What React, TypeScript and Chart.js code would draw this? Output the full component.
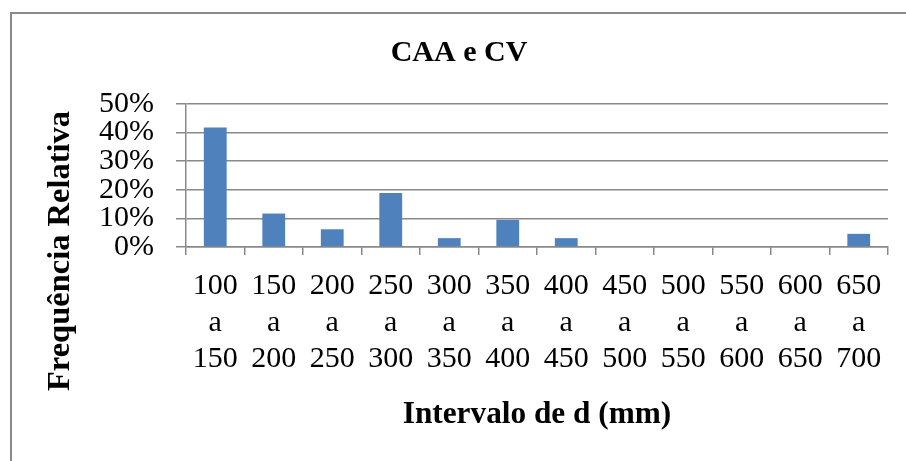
import React, { useEffect, useRef } from "react";
import { Chart, registerables } from "chart.js";

Chart.register(...registerables);

const CHART_TITLE = "CAA e CV";
const X_TITLE = "Intervalo de d (mm)";
const Y_TITLE = "Frequência Relativa";
const LOWER = ["100", "150", "200", "250", "300", "350", "400", "450", "500", "550", "600", "650"];
const UPPER = ["150", "200", "250", "300", "350", "400", "450", "500", "550", "600", "650", "700"];
const VALUES = [0.418, 0.117, 0.062, 0.189, 0.031, 0.095, 0.031, 0, 0, 0, 0, 0.046];
const Y_TICKS = [0, 0.1, 0.2, 0.3, 0.4, 0.5];

const SERIF = "'Liberation Serif', 'Times New Roman', serif";
const GRID = "#898989";

const yTitlePlugin = {
  id: "yTitleCentered",
  afterDraw(chart: any) {
    const ctx = chart.ctx;
    const y = chart.scales.y;
    ctx.save();
    ctx.translate(y.left + 31, chart.height / 2);
    ctx.rotate(-Math.PI / 2);
    ctx.font = `bold 32.5px ${SERIF}`;
    ctx.fillStyle = "#000";
    ctx.textAlign = "center";
    ctx.textBaseline = "middle";
    ctx.fillText(Y_TITLE, 0, 0);
    ctx.restore();
  },
};

export default function App() {
  const ref = useRef<HTMLCanvasElement | null>(null);
  useEffect(() => {
    if (!ref.current) return;
    const labels = LOWER.map((lo, i) => [lo, "a", UPPER[i]]);
    const chart = new Chart(ref.current, {
      type: "bar",
      data: {
        labels,
        datasets: [
          {
            data: VALUES,
            backgroundColor: "#4F81BD",
            borderWidth: 0,
            categoryPercentage: 1,
            barPercentage: 0.39,
          },
        ],
      },
      plugins: [yTitlePlugin],
      options: {
        responsive: false,
        animation: false,
        layout: { padding: { left: 20, right: 20, top: 0, bottom: 0 } },
        plugins: {
          legend: { display: false },
          tooltip: { enabled: false },
          title: {
            display: true,
            text: CHART_TITLE,
            color: "#000",
            font: { family: SERIF, size: 30, weight: "bold", lineHeight: 1.2 },
            padding: { top: 23, bottom: 33 },
          },
        },
        scales: {
          x: {
            grid: {
              display: true,
              drawOnChartArea: false,
              drawTicks: true,
              tickLength: 8,
              color: GRID,
              lineWidth: 1.5,
            },
            border: { display: true, color: GRID, width: 1.5 },
            ticks: {
              color: "#000",
              font: { family: SERIF, size: 30, lineHeight: 1.22 },
              padding: 13,
              maxRotation: 0,
              autoSkip: false,
            },
            title: {
              display: true,
              text: X_TITLE,
              color: "#000",
              font: { family: SERIF, size: 31.3, weight: "bold", lineHeight: 1.2 },
              padding: { top: 0, bottom: 56 },
            },
            afterFit(scale: any) {
              scale.height = 243;
            },
          },
          y: {
            min: 0,
            max: 0.5,
            afterBuildTicks(scale: any) {
              scale.ticks = Y_TICKS.map((v) => ({ value: v }));
            },
            grid: {
              color: GRID,
              lineWidth: 1.5,
              drawTicks: true,
              tickLength: 10,
            },
            border: { display: true, color: GRID, width: 1.5 },
            ticks: {
              color: "#000",
              font: { family: SERIF, size: 30, lineHeight: 1.0 },
              padding: 22,
              autoSkip: false,
              callback: (v: any) => `${Math.round(Number(v) * 100)}%`,
            },
            afterFit(scale: any) {
              scale.width = 156;
            },
          },
        },
      },
    });
    return () => chart.destroy();
  }, []);

  return (
    <div
      style={{
        position: "fixed",
        left: 0,
        top: 0,
        width: 906,
        height: 461,
        overflow: "hidden",
        background: "#fff",
      }}
    >
      <div style={{ position: "absolute", left: 10, top: 12, width: 898, height: 478 }}>
        <div
          style={{
            position: "absolute",
            inset: 0,
            border: "2px solid #898989",
            boxSizing: "border-box",
          }}
        />
        <canvas
          ref={ref}
          width={898}
          height={478}
          style={{ position: "absolute", left: 0, top: 0, width: 898, height: 478 }}
        />
      </div>
    </div>
  );
}
